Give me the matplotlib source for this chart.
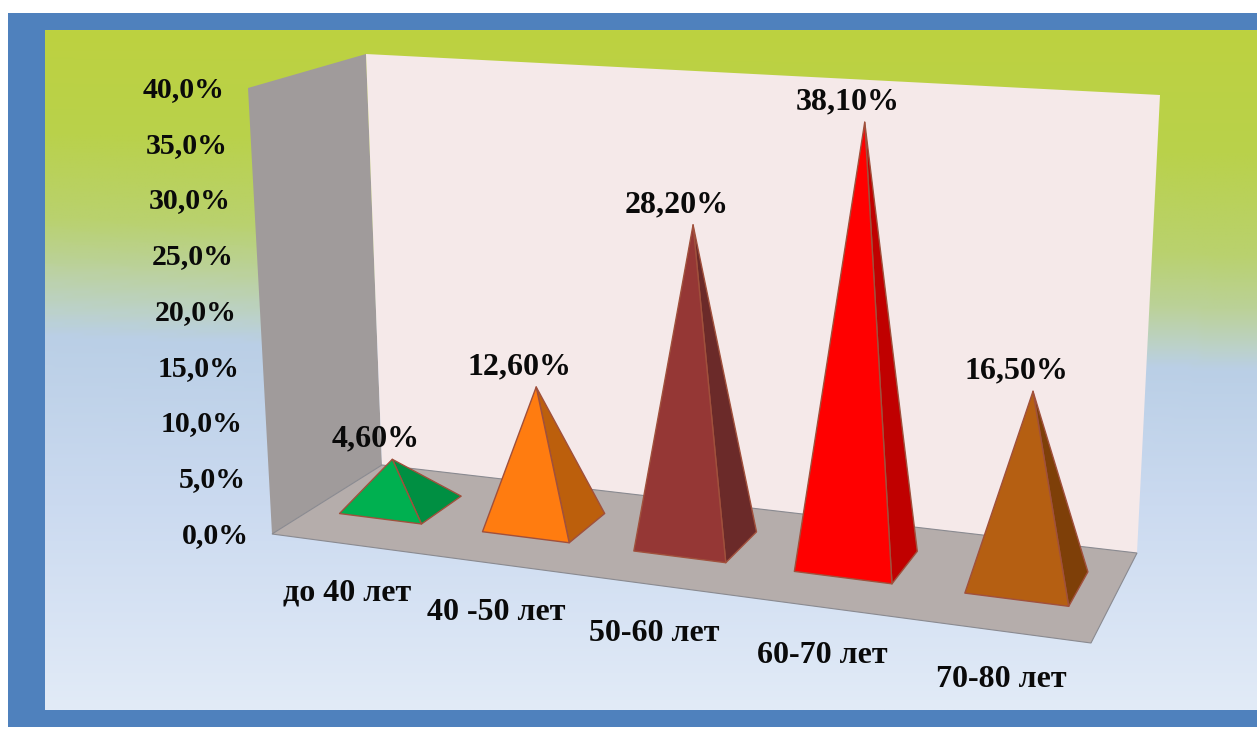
import numpy as np
import matplotlib
matplotlib.use("Agg")
import matplotlib.pyplot as plt
from matplotlib.colors import LinearSegmentedColormap
from matplotlib.patches import Polygon

# ---- data ----
categories = ["до 40 лет", "40 -50 лет", "50-60 лет", "60-70 лет", "70-80 лет"]
values = [4.6, 12.6, 28.2, 38.1, 16.5]
value_labels = ["4,60%", "12,60%", "28,20%", "38,10%", "16,50%"]
ticks = [0, 5, 10, 15, 20, 25, 30, 35, 40]
tick_labels = ["0,0%", "5,0%", "10,0%", "15,0%", "20,0%", "25,0%", "30,0%", "35,0%", "40,0%"]
front_colors = ["#00B050", "#FF7C10", "#953735", "#FF0000", "#B55F12"]
side_colors = ["#008F42", "#BC5F0C", "#6B2A29", "#C00000", "#7E3F08"]

# ---- projection: unit box (u along categories, v depth, z value) to pixels ----
FLOOR = np.array([(272, 534), (1091, 643), (1137, 553), (382, 465)], float)
TOP = np.array([(248, 88), (1123, 140), (1160, 95), (366, 54)], float)
ZMAX = 40.0
BAR_HALF_U = 0.058
BAR_V = (0.33, 0.72)
APEX_V = 0.46


def homography(pts):
    src = [(0, 0), (1, 0), (1, 1), (0, 1)]
    A, b = [], []
    for (s, t), (x, y) in zip(src, pts):
        A.append([s, t, 1, 0, 0, 0, -s * x, -t * x]); b.append(x)
        A.append([0, 0, 0, s, t, 1, -s * y, -t * y]); b.append(y)
    h = np.linalg.solve(np.array(A), np.array(b))
    return np.append(h, 1).reshape(3, 3)


H_FLOOR = homography(FLOOR)
RISE = TOP - FLOOR


def project(u, v, z=0.0):
    a = H_FLOOR @ np.array([u, v, 1.0])
    a = a[:2] / a[2]
    front = RISE[0] + (RISE[1] - RISE[0]) * u
    back = RISE[3] + (RISE[2] - RISE[3]) * u
    rise = front + (back - front) * v
    return tuple(a + rise * z / ZMAX)


fig = plt.figure(figsize=(12.57, 7.29), dpi=100)
ax = fig.add_axes([0, 0, 1, 1])
ax.set_xlim(0, 1257)
ax.set_ylim(729, 0)
ax.axis("off")
fig.patch.set_facecolor("white")
TICK_FONT = dict(family="Liberation Serif", weight="bold", color="#0A0A0A", fontsize=21.5)
LABEL_FONT = dict(family="Liberation Serif", weight="bold", color="#0A0A0A", fontsize=23)

# ---- frame and background ----
ax.add_patch(Polygon([(8, 13), (1257, 13), (1257, 727), (8, 727)], fc="#4F81BD", ec="none", zorder=0))
cmap = LinearSegmentedColormap.from_list("bg", [
    (0.00, "#BDD240"), (0.18, "#B9D14B"), (0.33, "#B9D16E"), (0.41, "#BBD198"),
    (0.46, "#BCD2C2"), (0.50, "#BACFE6"), (0.70, "#CBDAF0"), (1.00, "#E2EBF7")])
gx, gy = np.meshgrid(np.linspace(0, 1, 128), np.linspace(0, 1, 256))
shade = np.clip(gy + 0.07 * (1 - gx) * np.clip(1 - np.abs(gy - 0.35) / 0.35, 0, 1), 0, 1)
ax.imshow(shade, cmap=cmap, aspect="auto", extent=(45, 1257, 710, 30),
          zorder=0.5, vmin=0, vmax=1)
ax.set_xlim(0, 1257)
ax.set_ylim(729, 0)

# ---- walls and floor ----
ax.add_patch(Polygon([project(0, 0), project(0, 1), project(0, 1, ZMAX), project(0, 0, ZMAX)],
                     fc="#A09B9B", ec="none", zorder=1))
ax.add_patch(Polygon([project(0, 1), project(1, 1), project(1, 1, ZMAX), project(0, 1, ZMAX)],
                     fc="#F5E9E9", ec="none", zorder=1))
ax.add_patch(Polygon([project(0, 0), project(1, 0), project(1, 1), project(0, 1)],
                     fc="#B5ADAB", ec="#8A8A90", lw=0.8, zorder=2))

# ---- pyramids ----
n = len(values)
for i, val in enumerate(values):
    uc = (i + 0.5) / n
    v0, v1 = BAR_V
    apex = project(uc, APEX_V, val)
    fl = project(uc - BAR_HALF_U, v0)
    fr = project(uc + BAR_HALF_U, v0)
    br = project(uc + BAR_HALF_U, v1)
    ax.add_patch(Polygon([fr, br, apex], fc=side_colors[i], ec="#A0503C", lw=1.0, joinstyle="round", zorder=3))
    ax.add_patch(Polygon([fl, fr, apex], fc=front_colors[i], ec="#A0503C", lw=1.0, joinstyle="round", zorder=4))
    ax.annotate(value_labels[i], xy=apex, xytext=(-12, 4), textcoords="offset points",
                ha="center", va="bottom", zorder=5, **LABEL_FONT)
    ax.annotate(categories[i], xy=project(uc, 0), xytext=(3, -35.5), textcoords="offset points",
                ha="center", va="center", zorder=5, **LABEL_FONT)

# ---- tick labels ----
for t, lab in zip(ticks, tick_labels):
    ax.annotate(lab, xy=project(0, 0, t), xytext=(-17, -1), textcoords="offset points",
                ha="right", va="center", zorder=5, **TICK_FONT)

fig.savefig("out.png", dpi=100)
